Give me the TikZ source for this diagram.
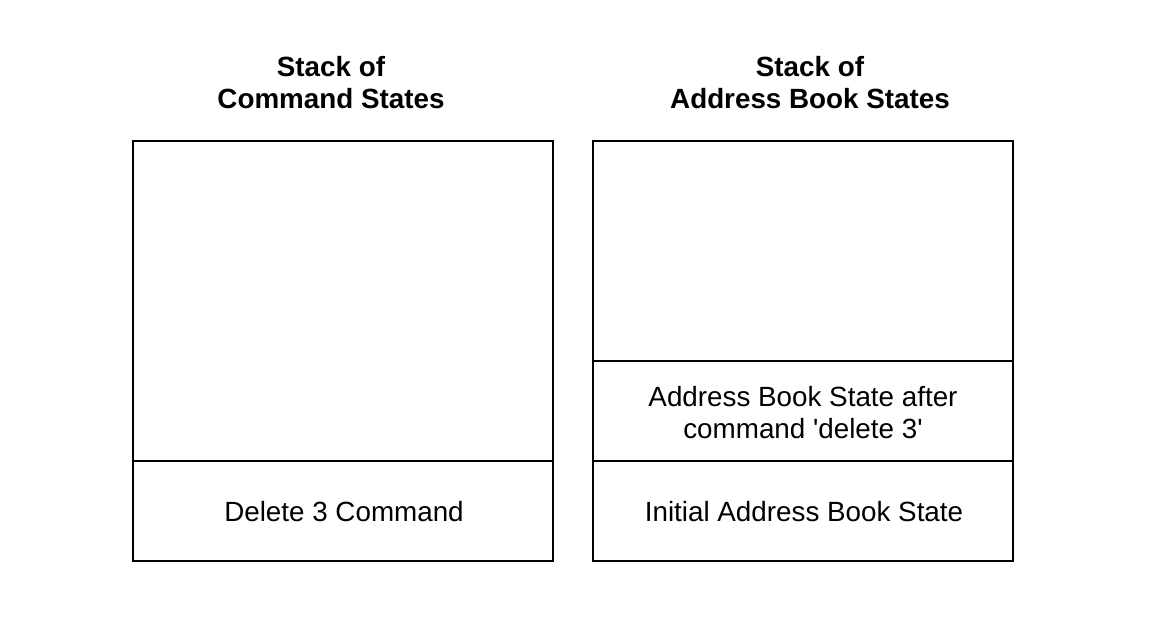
\documentclass[tikz,border=0pt]{standalone}
\usepackage{fontspec}
\setmainfont{Liberation Sans}[Ligatures=TeXOff]
\begin{document}
\begin{tikzpicture}[x=1pt,y=-1pt,
  cell/.style={draw=black,line width=1.3pt,fill=white},
  lbl/.style={font=\fontsize{27.8}{32}\selectfont,align=center,inner sep=0pt},
  ttl/.style={font=\fontsize{27.8}{32}\selectfont\bfseries,align=center,inner sep=0pt}]
\useasboundingbox[fill=white] (0,0) rectangle (1164,622);
% left stack
\draw[cell] (133,141) rectangle (553,461);
\draw[cell] (133,461) rectangle (553,561);
% right stack
\draw[cell] (593,141) rectangle (1013,361);
\draw[cell] (593,361) rectangle (1013,461);
\draw[cell] (593,461) rectangle (1013,561);
\node[ttl] (t1) at (331,83) {Stack of\\Command States};
\node[ttl] (t2) at (810,83) {Stack of\\Address Book States};
\node[lbl] (c1) at (344,512) {Delete 3 Command};
\node[lbl] (a2) at (803,413) {Address Book State after\\command 'delete 3'};
\node[lbl] (a1) at (804,512) {Initial Address Book State};
\end{tikzpicture}
\end{document}
